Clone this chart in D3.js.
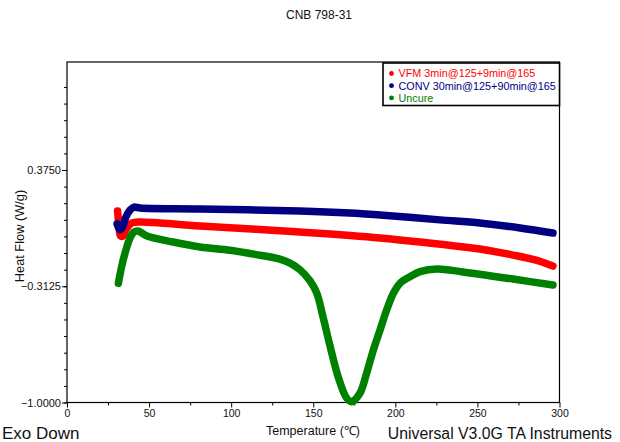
<!DOCTYPE html>
<html>
<head>
<meta charset="utf-8">
<script src="https://cdn.jsdelivr.net/npm/d3@7"></script>
<style>
  body { margin: 0; background: #fff; }
  svg text { font-family: "Liberation Sans", Arial, sans-serif; }
</style>
</head>
<body>
<div id="viz"></div>
<script>
var width = 620;
var height = 442;
var margin = {top: 62, right: 60.5, bottom: 39.5, left: 67};

// (temperature C, heat flow W/g)
var vfmTemp = [30.8, 31.7, 32.6, 34.1, 36.5, 39.6, 44.5, 81.0, 141.9, 190.7, 231.5, 251.6, 271.7, 285.1, 296.0];
var vfmFlow = [0.133, 0.044, -0.015, -0.015, 0.032, 0.062, 0.068, 0.044, 0.008, -0.027, -0.069, -0.092, -0.128, -0.157, -0.193];

var convTemp = [30.5, 32.3, 34.1, 35.9, 38.4, 40.8, 44.5, 81.0, 141.9, 172.4, 190.7, 227.2, 251.6, 276.0, 296.0];
var convFlow = [0.056, 0.020, 0.044, 0.097, 0.138, 0.156, 0.150, 0.144, 0.133, 0.121, 0.109, 0.080, 0.062, 0.032, 0.002];

var uncureTemp = [31.3, 33.5, 35.9, 38.4, 40.8, 43.2, 48.7, 64.6, 81.0, 99.3, 114.5, 129.7, 135.9, 141.9, 148.0, 152.1,
  156.1, 160.2, 165.3, 170.4, 173.4, 178.5, 182.5, 186.6, 190.7, 194.7, 198.8, 202.8, 208.9, 215.0, 225.4, 241.2, 271.7, 296.0];
var uncureFlow = [-0.295, -0.187, -0.098, -0.027, 0.008, 0.014, -0.015, -0.051, -0.080, -0.100, -0.124, -0.152, -0.176, -0.215, -0.280, -0.352,
  -0.500, -0.665, -0.852, -0.975, -0.995, -0.944, -0.827, -0.690, -0.571, -0.453, -0.354, -0.295, -0.256, -0.226, -0.210, -0.228, -0.270, -0.305];

var seriesNames = ['VFM 3min@125+9min@165', 'CONV 30min@125+90min@165', 'Uncure'];
var seriesColors = ['#ff0000', '#000080', '#008000'];

var xTicks = [0, 50, 100, 150, 200, 250, 300];
var yTicks = [-1.0, -0.3125, 0.375];

var svg = d3.select('#viz').append('svg')
  .attr('width', width)
  .attr('height', height);

var x = d3.scaleLinear().domain([0, 300]).range([margin.left, width - margin.right]);
var y = d3.scaleLinear().domain([-1, 1.0137]).range([height - margin.bottom, margin.top]);

// frame
svg.append('rect')
  .attr('x', x(0)).attr('y', y(1.0137))
  .attr('width', x(300) - x(0)).attr('height', y(-1) - y(1.0137))
  .attr('fill', 'none').attr('stroke', '#000').attr('stroke-width', 1.2);

// x axis
var xAxis = svg.append('g').attr('transform', 'translate(0,' + y(-1) + ')');
xAxis.append('g')
  .call(d3.axisBottom(x).tickValues(d3.range(25, 300, 50)).tickSize(3).tickFormat(''))
  .call(g => g.select('.domain').remove());
xAxis.append('g')
  .call(d3.axisBottom(x).tickValues(xTicks).tickSize(5).tickPadding(2))
  .call(g => g.select('.domain').remove())
  .call(g => g.selectAll('text').attr('font-size', 10.5).attr('fill', '#111'));

// y axis
var minorStep = (yTicks[1] - yTicks[0]) / 7;
var yMinor = d3.range(0, 20).map(i => yTicks[0] + i * minorStep).filter(v => v <= 1.0137);
var yAxis = svg.append('g').attr('transform', 'translate(' + x(0) + ',0)');
yAxis.append('g')
  .call(d3.axisLeft(y).tickValues(yMinor).tickSize(3).tickFormat(''))
  .call(g => g.select('.domain').remove());
yAxis.append('g')
  .call(d3.axisLeft(y).tickValues(yTicks).tickSize(5).tickPadding(1).tickFormat(d3.format('.4f')))
  .call(g => g.select('.domain').remove())
  .call(g => g.selectAll('text').attr('font-size', 11).attr('fill', '#111'));

// curves
var line = d3.line()
  .x(d => x(d[0]))
  .y(d => y(d[1]))
  .curve(d3.curveCatmullRom.alpha(0.5));

var allSeries = [
  d3.zip(vfmTemp, vfmFlow),
  d3.zip(convTemp, convFlow),
  d3.zip(uncureTemp, uncureFlow)
];

[0, 1, 2].forEach(function(i) {
  svg.append('path')
    .datum(allSeries[i])
    .attr('d', line)
    .attr('fill', 'none')
    .attr('stroke', seriesColors[i])
    .attr('stroke-width', 7.5)
    .attr('stroke-linecap', 'round')
    .attr('stroke-linejoin', 'round');
});

// legend
var legend = svg.append('g');
legend.append('rect')
  .attr('x', 383).attr('y', 63)
  .attr('width', x(300) - 383).attr('height', 42.5)
  .attr('fill', '#fff').attr('stroke', '#000').attr('stroke-width', 1.6);
seriesNames.forEach(function(name, i) {
  legend.append('circle')
    .attr('cx', 391.5).attr('cy', 73.5 + i * 12.2)
    .attr('r', 2.4)
    .attr('fill', seriesColors[i]);
  legend.append('text')
    .attr('x', 398.5).attr('y', 77.3 + i * 12.2)
    .attr('font-size', 10.8)
    .attr('fill', seriesColors[i])
    .text(name);
});

// titles
svg.append('text')
  .attr('x', 319).attr('y', 18.5)
  .attr('text-anchor', 'middle').attr('font-size', 12).attr('fill', '#111')
  .text('CNB 798-31');

svg.append('text')
  .attr('transform', 'translate(24,236) rotate(-90)')
  .attr('text-anchor', 'middle').attr('font-size', 12.8).attr('fill', '#111')
  .text('Heat Flow (W/g)');

svg.append('text')
  .attr('x', 313).attr('y', 435)
  .attr('text-anchor', 'middle').attr('font-size', 12.5).attr('fill', '#111')
  .text('Temperature (\u2103)');

svg.append('text')
  .attr('x', 2).attr('y', 438.5)
  .attr('font-size', 17).attr('fill', '#111')
  .text('Exo Down');

svg.append('text')
  .attr('x', 612).attr('y', 438.5)
  .attr('text-anchor', 'end').attr('font-size', 15.8).attr('fill', '#111')
  .text('Universal V3.0G TA Instruments');
</script>
</body>
</html>
